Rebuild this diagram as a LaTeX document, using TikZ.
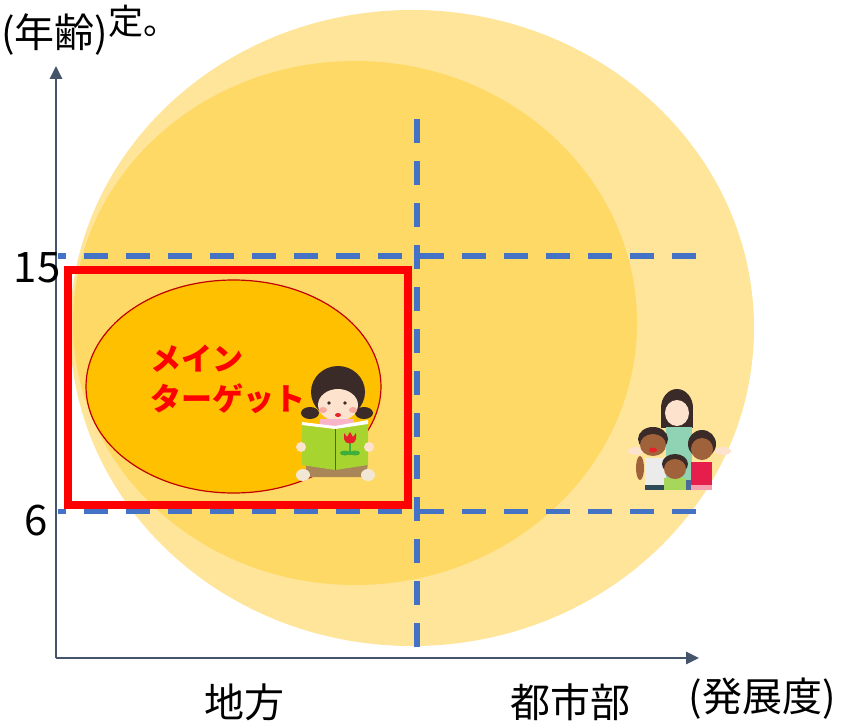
\documentclass[tikz,border=0pt]{standalone}
\usepackage{fontspec}
\setmainfont{Noto Sans CJK JP}
\usetikzlibrary{arrows.meta,positioning}
\definecolor{axisc}{HTML}{44546A}
\definecolor{dashc}{HTML}{4472C4}
\definecolor{paleband}{HTML}{FEE599}
\definecolor{midband}{HTML}{FFD966}
\definecolor{core}{HTML}{FFC000}
\definecolor{coreedge}{HTML}{C00000}
\definecolor{hot}{HTML}{FF0000}
\definecolor{hair}{HTML}{3A2A28}
\definecolor{skin}{HTML}{FDE2CE}
\definecolor{cheek}{HTML}{F7A9A0}
\definecolor{bookg}{HTML}{A8D430}
\definecolor{tulip}{HTML}{E8202A}
\definecolor{leaf}{HTML}{3DAF3A}
\definecolor{collar}{HTML}{F8B4C8}
\definecolor{pants}{HTML}{A88658}
\definecolor{cream}{HTML}{F1E7D4}
\definecolor{teal}{HTML}{8FD3B4}
\definecolor{tan}{HTML}{A0623A}
\definecolor{shirtg}{HTML}{A6D65A}
\definecolor{shirtr}{HTML}{E61E4C}
\definecolor{skirt}{HTML}{F4A0B0}
\definecolor{shorts}{HTML}{2F4A5A}
\definecolor{jeans}{HTML}{4A6A9A}
\tikzset{
  axisline/.style={axisc,line width=2.6pt,-{Triangle[length=13pt,width=12pt]}},
  gridline/.style={dashc,line width=5.5pt,dash pattern=on 24pt off 18pt},
  ticklbl/.style={font=\fontsize{42}{42}\selectfont,inner sep=0pt},
  catlbl/.style={font=\fontsize{40}{40}\selectfont,inner sep=0pt},
  tgtlbl/.style={hot,font=\bfseries\fontsize{31}{40}\selectfont,align=left,inner sep=0pt},
}

\begin{document}
\begin{tikzpicture}[x=1pt,y=-1pt]
  \useasboundingbox (0,0) rectangle (846,725);
  % ===================== bands =====================
  \fill[paleband] (412,328) ellipse [x radius=342pt,y radius=318pt];
  \fill[midband] (355,323) ellipse [x radius=282pt,y radius=262pt];
  \filldraw[fill=core,draw=coreedge,line width=1.2pt] (233.5,386.5) ellipse [x radius=147.5pt,y radius=106.5pt];
  % ===================== guides =====================
  \coordinate (h15a) at (58,256);  \coordinate (h15b) at (697,256);
  \coordinate (h6a) at (58,511.5); \coordinate (h6b) at (697,511.5);
  \coordinate (vtop) at (417,119); \coordinate (vbot) at (417,647);
  \draw[gridline,dash phase=16pt] (h15a) -- (h15b);
  \draw[gridline,dash phase=16pt] (h6a) -- (h6b);
  \draw[gridline] (vtop) -- (vbot);
  \node[draw=hot,line width=8pt,minimum width=340pt,minimum height=235pt,inner sep=0pt]
    (mainbox) at (238,387.5) {};
  % ===================== axes =====================
  \coordinate (o) at (56,658);
  \coordinate (ytip) at (56,66);
  \coordinate (xtip) at (699,658);
  \draw[axisline] (o) -- (ytip);
  \draw[axisline] (o) -- (xtip);
  % ===================== labels =====================
  \node[catlbl,anchor=base west] (age) at (1,48) {(年齢)};
  \node[inner sep=0pt,font=\fontsize{35}{35}\selectfont,anchor=base west] (note) at (108,35) {定。};
  \node[ticklbl,anchor=base] (t15) at (37,282) {15};
  \node[ticklbl,anchor=base] (t6) at (36,535) {6};
  \node[catlbl,anchor=base] (rural) at (244,717) {地方};
  \node[catlbl,anchor=base] (urban) at (570,717) {都市部};
  \node[catlbl,anchor=base] (devel) at (762,711) {(発展度)};
  \node[tgtlbl,anchor=north west] (tgt) at (150,345) {メイン\\ターゲット};
  % ===================== reading girl =====================
  \begin{scope}[shift={(336,425)}]
    \fill[hair] (2,-33) ellipse [x radius=27pt,y radius=26pt];
    \fill[hair] (-26,-12) ellipse [x radius=9pt,y radius=6pt];
    \fill[hair] (28,-12) ellipse [x radius=9pt,y radius=6pt];
    \fill[skin] (2,-20) ellipse [x radius=20pt,y radius=16pt];
    \fill[hair] (-7,-22) circle (1.8pt);
    \fill[hair] (9,-22) circle (1.8pt);
    \fill[cheek] (-13,-15) ellipse [x radius=4pt,y radius=3pt];
    \fill[cheek] (17,-15) ellipse [x radius=4pt,y radius=3pt];
    \fill[tulip] (2,-10) ellipse [x radius=3pt,y radius=2pt];
    \fill[collar] (-16,-6) rectangle (18,2);
    \fill[pants] (-30,38) -- (32,38) -- (30,52) -- (-30,52) -- cycle;
    \fill[cream] (-33,50) ellipse [x radius=7pt,y radius=6pt];
    \fill[cream] (32,50) ellipse [x radius=7pt,y radius=6pt];
    \fill[bookg] (-34,0) -- (-1,4) -- (32,-2) -- (32,40) -- (-1,45) -- (-34,40) -- cycle;
    \fill[white] (-34,-3) -- (-1,1) -- (32,-5) -- (32,-1) -- (-1,4) -- (-34,0) -- cycle;
    \draw[leaf!70!black,line width=0.6pt] (-1,4) -- (-1,45);
    \draw[leaf,line width=1.6pt] (14,16) -- (14,30);
    \fill[leaf] (9,28) ellipse [x radius=5pt,y radius=2.5pt];
    \fill[leaf] (19,28) ellipse [x radius=5pt,y radius=2.5pt];
    \fill[tulip] (8,8) -- (11,12) -- (14,7) -- (17,12) -- (20,8) -- (20,14)
      .. controls (20,20) and (8,20) .. (8,14) -- cycle;
    \fill[skin] (-35,22) circle (5pt);
    \fill[skin] (33,22) circle (5pt);
  \end{scope}
  % ===================== family =====================
  \begin{scope}[shift={(678,440)}]
    % mother
    \fill[hair] (-1,-32) ellipse [x radius=16pt,y radius=19pt];
    \fill[hair] (-17,-32) rectangle (15,-12);
    \fill[skin] (-1,-27) ellipse [x radius=12pt,y radius=13pt];
    \fill[teal] (-12,-13) rectangle (14,50);
    \fill[skin] (-42,11) ellipse [x radius=8pt,y radius=4pt];
    \fill[skin] (45,11) ellipse [x radius=8pt,y radius=4pt];
    \fill[jeans] (4,40) rectangle (14,50);
    % boy, left
    \fill[tan] (-38,28) ellipse [x radius=4pt,y radius=12pt];
    \fill[white!92!black] (-33,18) rectangle (-13,50);
    \fill[shorts] (-33,45) rectangle (-13,50);
    \fill[hair] (-25,-1) ellipse [x radius=15pt,y radius=12pt];
    \fill[tan] (-25,5) ellipse [x radius=13pt,y radius=11pt];
    \fill[tulip] (-25,10) ellipse [x radius=4pt,y radius=2.5pt];
    % girl, right
    \fill[hair] (24,4) ellipse [x radius=14pt,y radius=14pt];
    \fill[shirtr] (13,22) rectangle (34,45);
    \fill[skirt] (13,45) rectangle (34,50);
    \fill[tan] (24,9) ellipse [x radius=11pt,y radius=11pt];
    % boy, middle
    \fill[shirtg] (-14,38) rectangle (8,50);
    \fill[hair] (-3,24) ellipse [x radius=13pt,y radius=10pt];
    \fill[tan] (-3,29) ellipse [x radius=11pt,y radius=10pt];
  \end{scope}
\end{tikzpicture}
\end{document}
